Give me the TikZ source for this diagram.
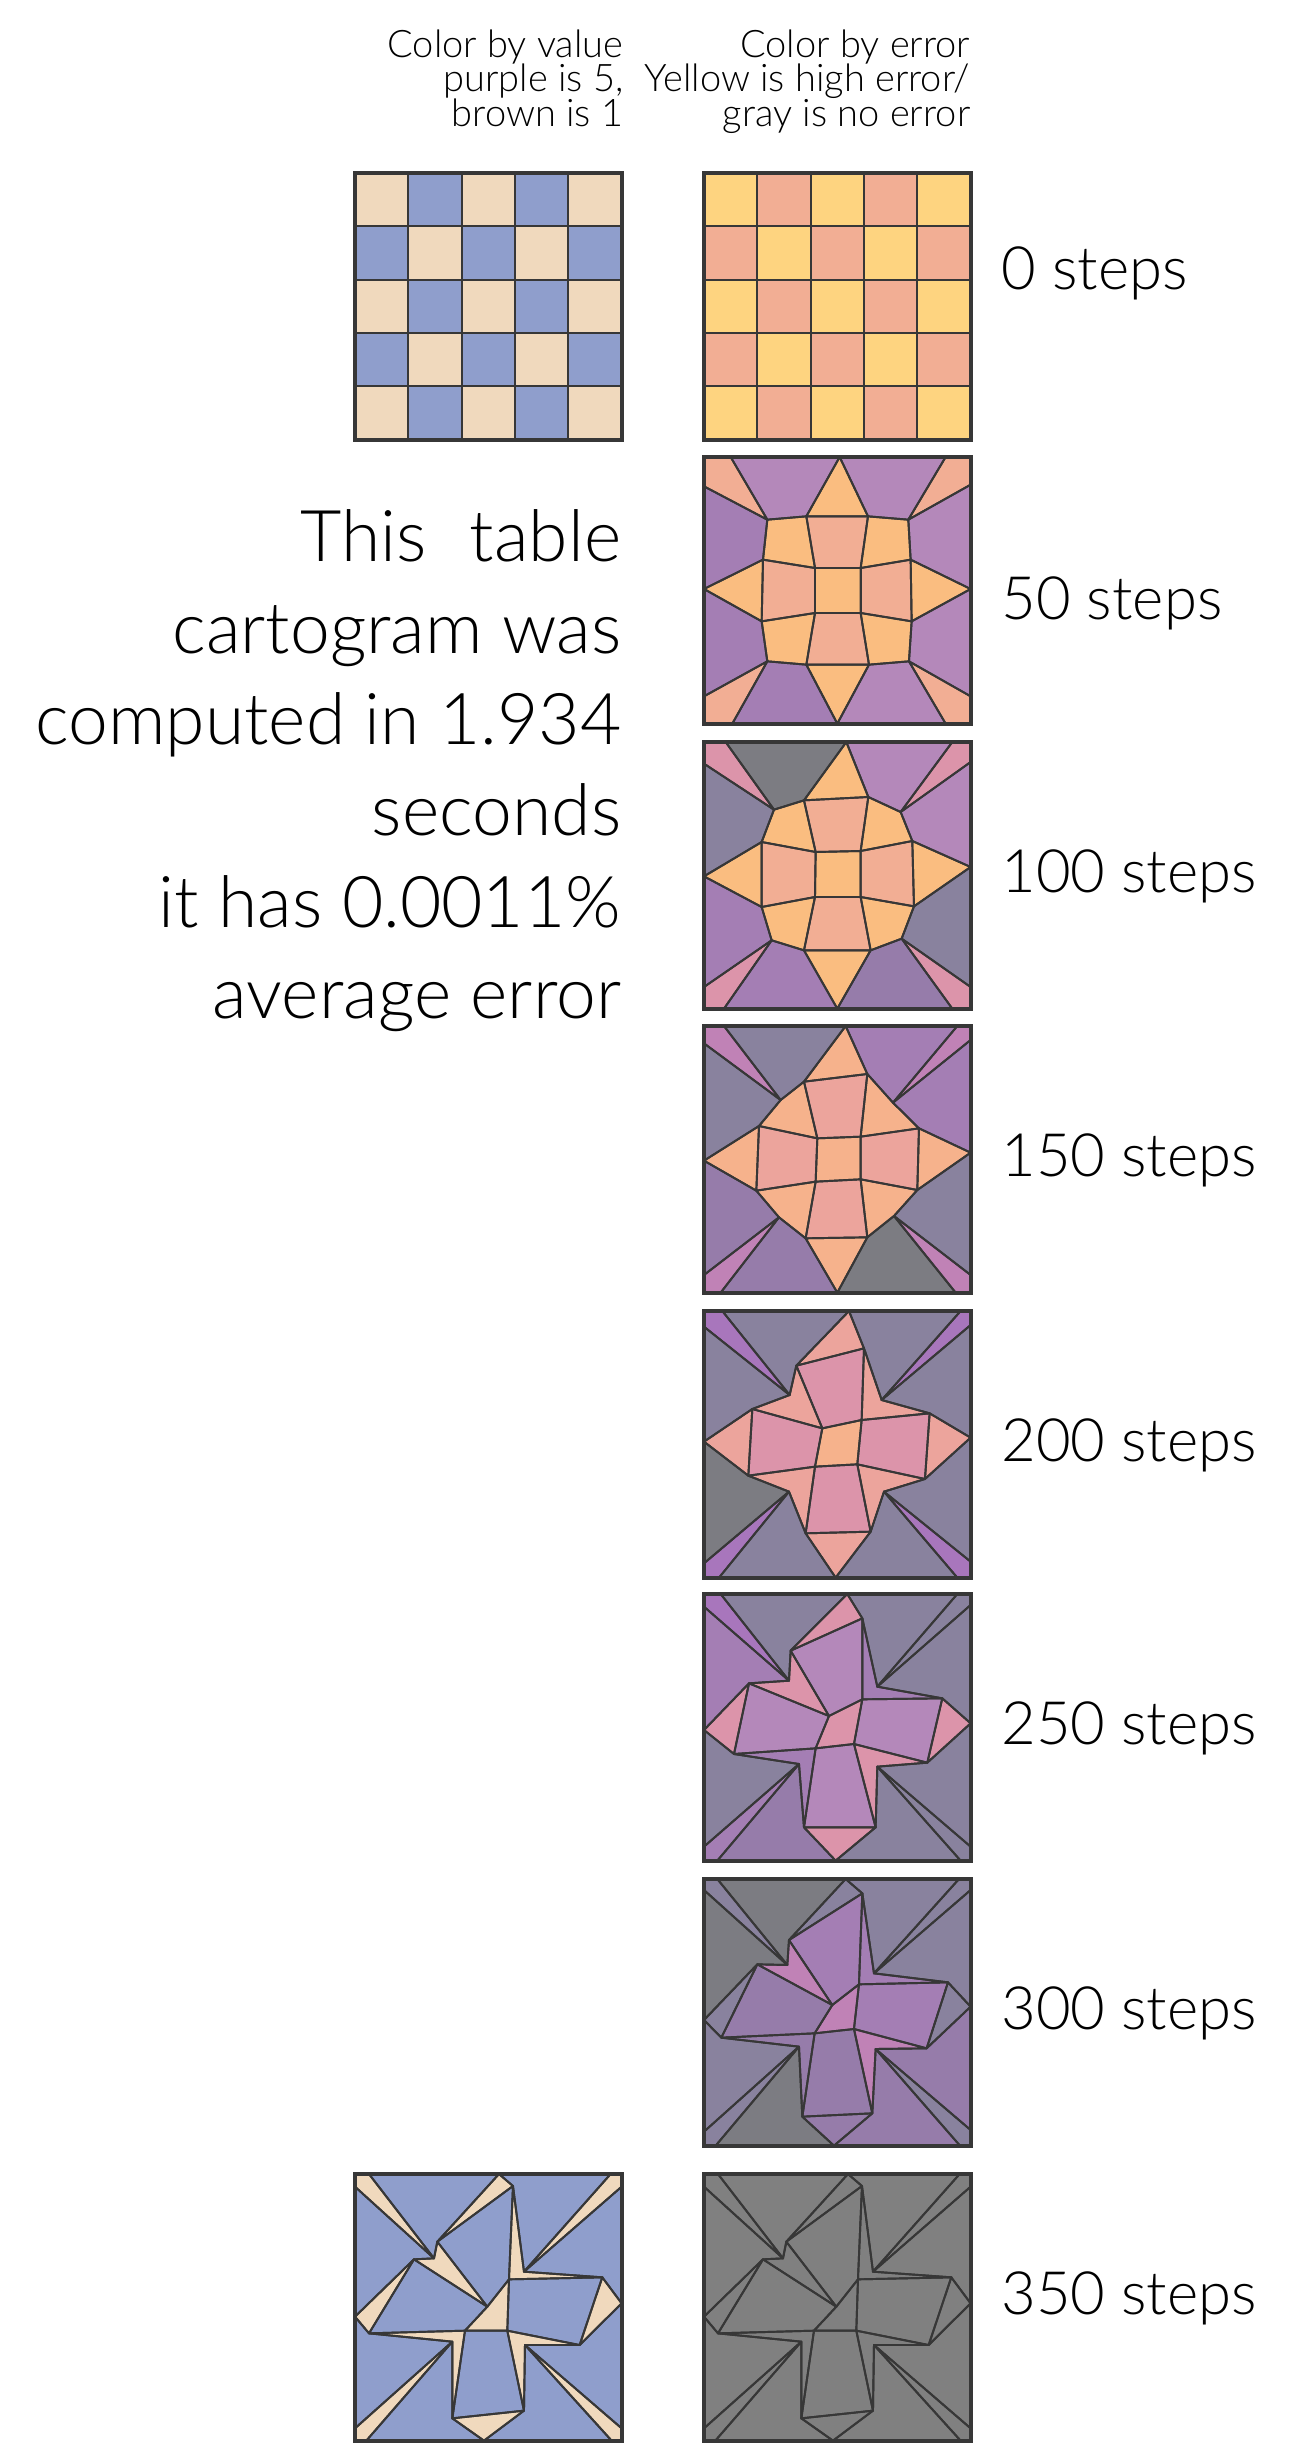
\documentclass[tikz,border=0pt]{standalone}
\usepackage{fontspec}
\setmainfont{Lato Light}
\usetikzlibrary{positioning}

\definecolor{valTan}{RGB}{240,217,189}
\definecolor{valBlue}{RGB}{143,158,204}
\definecolor{errYel}{RGB}{254,212,128}
\definecolor{errSal}{RGB}{242,174,148}
\definecolor{errOra}{RGB}{250,189,128}
\definecolor{errPch}{RGB}{246,178,140}
\definecolor{errRos}{RGB}{236,164,156}
\definecolor{errPnk}{RGB}{220,148,170}
\definecolor{errMag}{RGB}{192,130,182}
\definecolor{errVio}{RGB}{168,118,188}
\definecolor{errLil}{RGB}{180,136,186}
\definecolor{errPur}{RGB}{164,126,180}
\definecolor{errMau}{RGB}{150,124,170}
\definecolor{errGpu}{RGB}{137,130,158}
\definecolor{errGry}{RGB}{124,124,130}
\definecolor{errNil}{RGB}{128,128,128}
\definecolor{meshInk}{RGB}{55,55,55}

\tikzset{
  meshline/.style={draw=meshInk, line width=0.55pt, line join=round},
  meshframe/.style={draw=meshInk, line width=1.1pt},
  headtxt/.style={anchor=north east, align=right, inner sep=0pt, font=\fontsize{10.8}{9.8}\selectfont},
  bigtxt/.style={anchor=north east, align=right, inner sep=0pt, font=\fontsize{20.3}{26}\selectfont},
  steplbl/.style={inner sep=0pt, font=\fontsize{17}{20}\selectfont}
}

% one row of mesh vertices: name, row, x/y list (square is 800 x 800)
\newcommand\meshrow[3]{%
  \foreach \X/\Y [count=\n from 0] in {#3} \coordinate (#1-\n#2) at (\X,\Y);}

% fill and outline the 5x5 cells of a mesh: name, list i/j/colour
\newcommand\meshcells[2]{%
  \edef\celllist{#2}%
  \foreach \i/\j/\c [evaluate=\i as \ii using int(\i+1), evaluate=\j as \jj using int(\j+1)] in \celllist
    \fill[\c] (#1-\i\j) -- (#1-\ii\j) -- (#1-\ii\jj) -- (#1-\i\jj) -- cycle;
  \foreach \i/\j/\c [evaluate=\i as \ii using int(\i+1), evaluate=\j as \jj using int(\j+1)] in \celllist
    \draw[meshline] (#1-\i\j) -- (#1-\ii\j) -- (#1-\ii\jj) -- (#1-\i\jj) -- cycle;
  \draw[meshframe] (#1-00) rectangle (#1-55);}

\newcommand\checklist{0/0/chkA, 1/0/chkB, 2/0/chkA, 3/0/chkB, 4/0/chkA,
  0/1/chkB, 1/1/chkA, 2/1/chkB, 3/1/chkA, 4/1/chkB,
  0/2/chkA, 1/2/chkB, 2/2/chkA, 3/2/chkB, 4/2/chkA,
  0/3/chkB, 1/3/chkA, 2/3/chkB, 3/3/chkA, 4/3/chkB,
  0/4/chkA, 1/4/chkB, 2/4/chkA, 3/4/chkB, 4/4/chkA}

% final (350 steps) mesh, used twice
\newcommand\finalrows[1]{%
  \meshrow{#1}{0}{0/0, 42/0, 432/0, 432/0, 767/0, 800/0}
  \meshrow{#1}{1}{0/38, 237/253, 247/203, 474/36, 507/293, 800/38}
  \meshrow{#1}{2}{0/428, 177/256, 397/398, 462/316, 742/310, 800/388}
  \meshrow{#1}{3}{0/428, 42/478, 330/470, 457/470, 674/513, 800/388}
  \meshrow{#1}{4}{0/763, 292/503, 292/733, 507/710, 510/513, 800/763}
  \meshrow{#1}{5}{0/800, 34/800, 387/800, 387/800, 770/800, 800/800}}

\begin{document}
\begin{tikzpicture}[x=0.01cm, y=-0.01cm]
  \useasboundingbox (0,0) rectangle (1309,2453);

  % column headers
  \node[headtxt] (hval) at (624,29) {Color by value\\purple is 5,\\brown is 1};
  \node[headtxt] (herr) at (971,29) {Color by error\\Yellow is high error/\\gray is no error};

  % 0 steps
  \begin{scope}[shift={(355,173)}, scale=0.3333]
    \foreach \i in {0,...,5} \foreach \j in {0,...,5} \coordinate (g0v-\i\j) at (\i*160,\j*160);
    \colorlet{chkA}{valTan}\colorlet{chkB}{valBlue}
    \meshcells{g0v}{\checklist}
  \end{scope}
  \begin{scope}[shift={(704,173)}, scale=0.3333]
    \foreach \i in {0,...,5} \foreach \j in {0,...,5} \coordinate (s0-\i\j) at (\i*160,\j*160);
    \colorlet{chkA}{errYel}\colorlet{chkB}{errSal}
    \meshcells{s0}{\checklist}
    \coordinate (s0-r) at (800,348);
  \end{scope}

  % 50 steps
  \begin{scope}[shift={(704,457)}, scale=0.3333]
    \meshrow{s50}{0}{0/0, 80/0, 407/0, 407/0, 725/0, 800/0}
    \meshrow{s50}{1}{0/88, 190/188, 307/178, 492/178, 613/188, 800/83}
    \meshrow{s50}{2}{0/396, 177/308, 333/333, 470/333, 620/308, 800/396}
    \meshrow{s50}{3}{0/396, 173/493, 333/468, 470/468, 623/493, 800/396}
    \meshrow{s50}{4}{0/718, 190/613, 307/623, 495/623, 615/613, 800/718}
    \meshrow{s50}{5}{0/800, 85/800, 400/800, 400/800, 725/800, 800/800}
    \meshcells{s50}{0/0/errSal, 1/0/errLil, 2/0/errOra, 3/0/errLil, 4/0/errSal,
      0/1/errPur, 1/1/errOra, 2/1/errSal, 3/1/errOra, 4/1/errLil,
      0/2/errOra, 1/2/errSal, 2/2/errOra, 3/2/errSal, 4/2/errOra,
      0/3/errPur, 1/3/errOra, 2/3/errSal, 3/3/errOra, 4/3/errLil,
      0/4/errSal, 1/4/errPur, 2/4/errOra, 3/4/errLil, 4/4/errSal}
    \coordinate (s50-r) at (800,487);
  \end{scope}

  % 100 steps
  \begin{scope}[shift={(704,742)}, scale=0.3333]
    \meshrow{s100}{0}{0/0, 65/0, 427/0, 427/0, 745/0, 800/0}
    \meshrow{s100}{1}{0/65, 210/203, 300/175, 493/165, 590/210, 800/60}
    \meshrow{s100}{2}{0/403, 173/300, 335/330, 470/327, 625/297, 800/375}
    \meshrow{s100}{3}{0/403, 173/495, 333/465, 470/465, 630/493, 800/375}
    \meshrow{s100}{4}{0/735, 203/595, 300/625, 500/625, 593/590, 800/735}
    \meshrow{s100}{5}{0/800, 60/800, 400/800, 400/800, 745/800, 800/800}
    \meshcells{s100}{0/0/errPnk, 1/0/errGry, 2/0/errOra, 3/0/errLil, 4/0/errPnk,
      0/1/errGpu, 1/1/errOra, 2/1/errSal, 3/1/errOra, 4/1/errLil,
      0/2/errOra, 1/2/errSal, 2/2/errOra, 3/2/errSal, 4/2/errOra,
      0/3/errPur, 1/3/errOra, 2/3/errSal, 3/3/errOra, 4/3/errGpu,
      0/4/errPnk, 1/4/errPur, 2/4/errOra, 3/4/errMau, 4/4/errPnk}
    \coordinate (s100-r) at (800,450);
  \end{scope}

  % 150 steps
  \begin{scope}[shift={(704,1026)}, scale=0.3333]
    \meshrow{s150}{0}{0/0, 60/0, 425/0, 425/0, 760/0, 800/0}
    \meshrow{s150}{1}{0/52, 230/222, 300/167, 490/144, 567/230, 800/42}
    \meshrow{s150}{2}{0/404, 165/300, 340/337, 470/332, 645/307, 800/380}
    \meshrow{s150}{3}{0/404, 157/494, 335/467, 470/460, 640/492, 800/380}
    \meshrow{s150}{4}{0/747, 225/574, 305/637, 490/634, 570/570, 800/747}
    \meshrow{s150}{5}{0/800, 50/800, 400/800, 400/800, 755/800, 800/800}
    \meshcells{s150}{0/0/errMag, 1/0/errGpu, 2/0/errPch, 3/0/errPur, 4/0/errMag,
      0/1/errGpu, 1/1/errPch, 2/1/errRos, 3/1/errPch, 4/1/errPur,
      0/2/errPch, 1/2/errRos, 2/2/errPch, 3/2/errRos, 4/2/errPch,
      0/3/errMau, 1/3/errPch, 2/3/errRos, 3/3/errPch, 4/3/errGpu,
      0/4/errMag, 1/4/errMau, 2/4/errPch, 3/4/errGry, 4/4/errMag}
    \coordinate (s150-r) at (800,450);
  \end{scope}

  % 200 steps
  \begin{scope}[shift={(704,1311)}, scale=0.3333]
    \meshrow{s200}{0}{0/0, 55/0, 435/0, 435/0, 770/0, 800/0}
    \meshrow{s200}{1}{0/47, 257/252, 277/164, 480/112, 533/267, 800/42}
    \meshrow{s200}{2}{0/392, 145/294, 355/352, 473/327, 677/307, 800/380}
    \meshrow{s200}{3}{0/392, 133/494, 333/467, 460/460, 663/504, 800/380}
    \meshrow{s200}{4}{0/757, 255/542, 305/667, 500/662, 540/542, 800/752}
    \meshrow{s200}{5}{0/800, 45/800, 395/800, 395/800, 760/800, 800/800}
    \meshcells{s200}{0/0/errVio, 1/0/errGpu, 2/0/errRos, 3/0/errGpu, 4/0/errVio,
      0/1/errGpu, 1/1/errRos, 2/1/errPnk, 3/1/errRos, 4/1/errGpu,
      0/2/errRos, 1/2/errPnk, 2/2/errPch, 3/2/errPnk, 4/2/errRos,
      0/3/errGry, 1/3/errRos, 2/3/errPnk, 3/3/errRos, 4/3/errGpu,
      0/4/errVio, 1/4/errGpu, 2/4/errRos, 3/4/errGpu, 4/4/errVio}
    \coordinate (s200-r) at (800,450);
  \end{scope}

  % 250 steps
  \begin{scope}[shift={(704,1594)}, scale=0.3333]
    \meshrow{s250}{0}{0/0, 50/0, 430/0, 430/0, 760/0, 800/0}
    \meshrow{s250}{1}{0/38, 255/260, 260/170, 475/73, 520/278, 800/33}
    \meshrow{s250}{2}{0/408, 135/268, 375/366, 475/316, 715/313, 800/388}
    \meshrow{s250}{3}{0/408, 90/480, 335/463, 450/450, 670/506, 800/388}
    \meshrow{s250}{4}{0/758, 285/510, 300/700, 515/700, 520/518, 800/758}
    \meshrow{s250}{5}{0/800, 40/800, 395/800, 395/800, 770/800, 800/800}
    \meshcells{s250}{0/0/errVio, 1/0/errGpu, 2/0/errPnk, 3/0/errGpu, 4/0/errGpu,
      0/1/errPur, 1/1/errPnk, 2/1/errLil, 3/1/errPur, 4/1/errGpu,
      0/2/errPnk, 1/2/errLil, 2/2/errPnk, 3/2/errLil, 4/2/errPnk,
      0/3/errGpu, 1/3/errPur, 2/3/errLil, 3/3/errPnk, 4/3/errGpu,
      0/4/errPur, 1/4/errMau, 2/4/errPnk, 3/4/errGpu, 4/4/errGpu}
    \coordinate (s250-r) at (800,450);
  \end{scope}

  % 300 steps
  \begin{scope}[shift={(704,1879)}, scale=0.3333]
    \meshrow{s300}{0}{0/0, 40/0, 425/0, 425/0, 765/0, 800/0}
    \meshrow{s300}{1}{0/33, 250/258, 255/183, 475/43, 510/283, 800/33}
    \meshrow{s300}{2}{0/423, 160/256, 385/378, 465/316, 732/310, 800/383}
    \meshrow{s300}{3}{0/423, 52/476, 332/463, 450/450, 668/508, 800/383}
    \meshrow{s300}{4}{0/758, 285/503, 295/713, 505/703, 515/510, 800/753}
    \meshrow{s300}{5}{0/800, 35/800, 390/800, 390/800, 768/800, 800/800}
    \meshcells{s300}{0/0/errGpu, 1/0/errGry, 2/0/errGpu, 3/0/errGpu, 4/0/errGpu,
      0/1/errGry, 1/1/errMag, 2/1/errPur, 3/1/errPur, 4/1/errGpu,
      0/2/errGpu, 1/2/errMau, 2/2/errMag, 3/2/errPur, 4/2/errGpu,
      0/3/errGpu, 1/3/errMau, 2/3/errMau, 3/3/errMag, 4/3/errMau,
      0/4/errGpu, 1/4/errGry, 2/4/errMau, 3/4/errMau, 4/4/errGpu}
    \coordinate (s300-r) at (800,450);
  \end{scope}

  % 350 steps, by value and by error
  \begin{scope}[shift={(355,2174)}, scale=0.3333]
    \finalrows{v350}
    \colorlet{chkA}{valTan}\colorlet{chkB}{valBlue}
    \meshcells{v350}{\checklist}
  \end{scope}
  \begin{scope}[shift={(704,2174)}, scale=0.3333]
    \finalrows{s350}
    \colorlet{chkA}{errNil}\colorlet{chkB}{errNil}
    \meshcells{s350}{\checklist}
    \coordinate (s350-r) at (800,422);
  \end{scope}

  % step labels
  \node[steplbl, base right=0.3cm of s0-r]   (lab0)   {0 steps};
  \node[steplbl, base right=0.3cm of s50-r]  (lab50)  {50 steps};
  \node[steplbl, base right=0.3cm of s100-r] (lab100) {100 steps};
  \node[steplbl, base right=0.3cm of s150-r] (lab150) {150 steps};
  \node[steplbl, base right=0.3cm of s200-r] (lab200) {200 steps};
  \node[steplbl, base right=0.3cm of s250-r] (lab250) {250 steps};
  \node[steplbl, base right=0.3cm of s300-r] (lab300) {300 steps};
  \node[steplbl, base right=0.3cm of s350-r] (lab350) {350 steps};

  % note on the left
  \node[bigtxt] (note) at (622,509) {This\hspace{0.6em}table\\cartogram was\\computed in 1.934\\seconds\\it has 0.0011\%\\average error};
\end{tikzpicture}
\end{document}
